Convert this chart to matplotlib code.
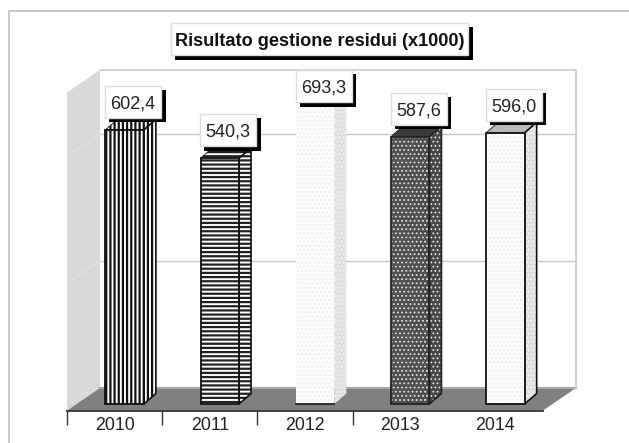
import matplotlib
matplotlib.use("Agg")
import matplotlib.pyplot as plt
from matplotlib.patches import Polygon
from matplotlib.lines import Line2D

years = ["2010", "2011", "2012", "2013", "2014"]
values = [602.4, 540.3, 693.3, 587.6, 596.0]
value_labels = ["602,4", "540,3", "693,3", "587,6", "596,0"]
grid_values = [279, 558]
title = "Risultato gestione residui (x1000)"

W, H = 629, 443
FONT = "Liberation Sans"
plt.rcParams["hatch.linewidth"] = 1.6

fig = plt.figure(figsize=(W / 100, H / 100), dpi=100, facecolor="white")
# front plane of the chart, in pixels
L, R, B, T = 67, 543, 410.5, 60
ax = fig.add_axes([L / W, 1 - B / H, (R - L) / W, (B - T) / H])
sx = (R - L) / 5            # px per category
sy = 0.455                  # px per unit
Y0 = 404                    # pixel row of value 0 at the bar front
ax.set_xlim(-0.5, 4.5)
ax.set_ylim((Y0 - B) / sy, (Y0 - T) / sy)
ax.patch.set_alpha(0)
for s in ("left", "right", "top"):
    ax.spines[s].set_visible(False)
ax.spines["bottom"].set_color("#333333")
ax.spines["bottom"].set_linewidth(1.3)
ax.set_yticks([])
ax.set_xticks(range(5), years, fontsize=12.8, family=FONT, color="#222222")
ax.set_xticks([-0.5, 0.5, 1.5, 2.5], minor=True)
ax.tick_params(axis="x", which="major", length=0, pad=5)
ax.tick_params(axis="x", which="minor", length=10.3, width=1.0, color="#333333")


def X(px):
    return -0.5 + (px - L) / sx


def Y(py):
    return (Y0 - py) / sy


def thin(patch, st):
    if st.get("thin") and hasattr(patch, "set_hatch_linewidth"):
        patch.set_hatch_linewidth(0.8)


def poly(pts, z, **kw):
    kw.setdefault("lw", 0)
    p = Polygon([(X(a), Y(b)) for a, b in pts], closed=True, clip_on=False, zorder=z, **kw)
    ax.add_patch(p)
    return p


# outer frame: only the top and left edges are visible
fig.add_artist(Line2D([9 / W, 9 / W, 1], [0, 1 - 11 / H, 1 - 11 / H], transform=fig.transFigure,
                      color="#c4c4c4", lw=1.3, zorder=0))

# walls and floor
WDX, WDY = 33, 22.5
BACK_B, BACK_T = 388, 70
poly([(L, B), (L + WDX, BACK_B), (L + WDX, BACK_T), (L, BACK_T + WDY)], 1, fc="#d9d9d9")
poly([(L, B), (R, B), (R + WDX, BACK_B), (L + WDX, BACK_B)], 1, fc="#808080")
ax.add_line(Line2D([X(L + WDX), X(R + WDX)], [Y(BACK_B)] * 2, color="#a6a6a6", lw=1.5, clip_on=False, zorder=1.5))
ax.add_line(Line2D([X(L + WDX), X(R + WDX), X(R + WDX)], [Y(BACK_T), Y(BACK_T), Y(BACK_B)],
                   color="#cccccc", lw=1.2, clip_on=False, zorder=1.5))
for g in grid_values:
    yb = BACK_B - g * sy
    ax.add_line(Line2D([X(L + WDX), X(R + WDX)], [Y(yb)] * 2, color="#c8c8c8", lw=1, clip_on=False, zorder=1.2))
    ax.add_line(Line2D([X(L), X(L + WDX)], [Y(yb + WDY), Y(yb)], color="#e2e2e2", lw=1, clip_on=False, zorder=1.2))

# bars
SHIFT, BW = 10, 38.5
DX, DY = 12, 10.5
styles = [
    dict(front="white", fh="||||", hc="#111111", side="white", sh="||||", top="white", th="||||", edge="#111111"),
    dict(front="white", fh="----", hc="#222222", side="white", sh="----", top="white", th="----", edge="#111111"),
    dict(front="white", fh="....", hc="#efefef", side="#dddddd", sh="....", top="#dddddd", th="", edge="none"),
    dict(front="#505050", fh="....", hc="#e4e4e4", side="#484848", sh="....", top="#3c3c3c", th="", edge="#222222", thin=True),
    dict(front="white", fh="....", hc="#f2f2f2", side="#dcdcdc", sh="....", top="#b8b8b8", th="", edge="#111111"),
]
for i, (v, st) in enumerate(zip(values, styles)):
    xc = i + SHIFT / sx
    w = BW / sx
    for rect in ax.bar(xc, v, width=w, color=st["front"], hatch=st["fh"], edgecolor=st["hc"], lw=0, zorder=3):
        thin(rect, st)
    if st["edge"] != "none":
        ax.bar(xc, v, width=w, fill=False, edgecolor=st["edge"], lw=1.3, zorder=3.5)
    else:
        ax.add_line(Line2D([xc - w / 2, xc + w / 2], [0, 0], color="#222222", lw=1.3, zorder=3.5))
    x0 = L + (i + 0.5) * sx + SHIFT - BW / 2
    x1 = x0 + BW
    yt = Y0 - v * sy
    side = [(x1, Y0), (x1 + DX, Y0 - DY), (x1 + DX, yt - DY), (x1, yt)]
    top = [(x0, yt), (x1, yt), (x1 + DX, yt - DY), (x0 + DX, yt - DY)]
    thin(poly(side, 2.5, fc=st["side"], hatch=st["sh"], ec=st["hc"]), st)
    thin(poly(top, 2.5, fc=st["top"], hatch=st["th"], ec=st["hc"]), st)
    if st["edge"] != "none":
        poly(side, 2.6, fill=False, ec=st["edge"], lw=1.2)
        poly(top, 2.6, fill=False, ec=st["edge"], lw=0.6)

    # value label box
    cx = x0 + BW / 2 + 8.5
    bot = max(yt - 12, 102)
    bw, bh = 56, 32
    poly([(cx - bw / 2 + 4, bot + 4.5), (cx + bw / 2 + 4.5, bot + 4.5), (cx + bw / 2 + 4.5, bot - bh + 4), (cx - bw / 2 + 4, bot - bh + 4)],
         5, fc="black")
    poly([(cx - bw / 2, bot), (cx + bw / 2, bot), (cx + bw / 2, bot - bh), (cx - bw / 2, bot - bh)],
         5.1, fc="white", ec="#dddddd", lw=1)
    ax.text(X(cx), Y(bot - bh / 2), value_labels[i], ha="center", va="center_baseline", fontsize=13,
            family=FONT, color="#222222", zorder=6, clip_on=False)

# title box
TX0, TX1, TY0, TY1 = 171, 468, 23, 55
poly([(TX0 + 4, TY1 + 4.5), (TX1 + 4.5, TY1 + 4.5), (TX1 + 4.5, TY0 + 4), (TX0 + 4, TY0 + 4)], 5, fc="black")
poly([(TX0, TY1), (TX1, TY1), (TX1, TY0), (TX0, TY0)], 5.1, fc="white", ec="#dddddd", lw=1)
ax.text(X((TX0 + TX1) / 2), Y((TY0 + TY1) / 2), title, ha="center", va="center_baseline", fontsize=13.1,
        fontweight="bold", family=FONT, color="#111111", zorder=6, clip_on=False)

fig.savefig("out.png", dpi=100, facecolor="white")
